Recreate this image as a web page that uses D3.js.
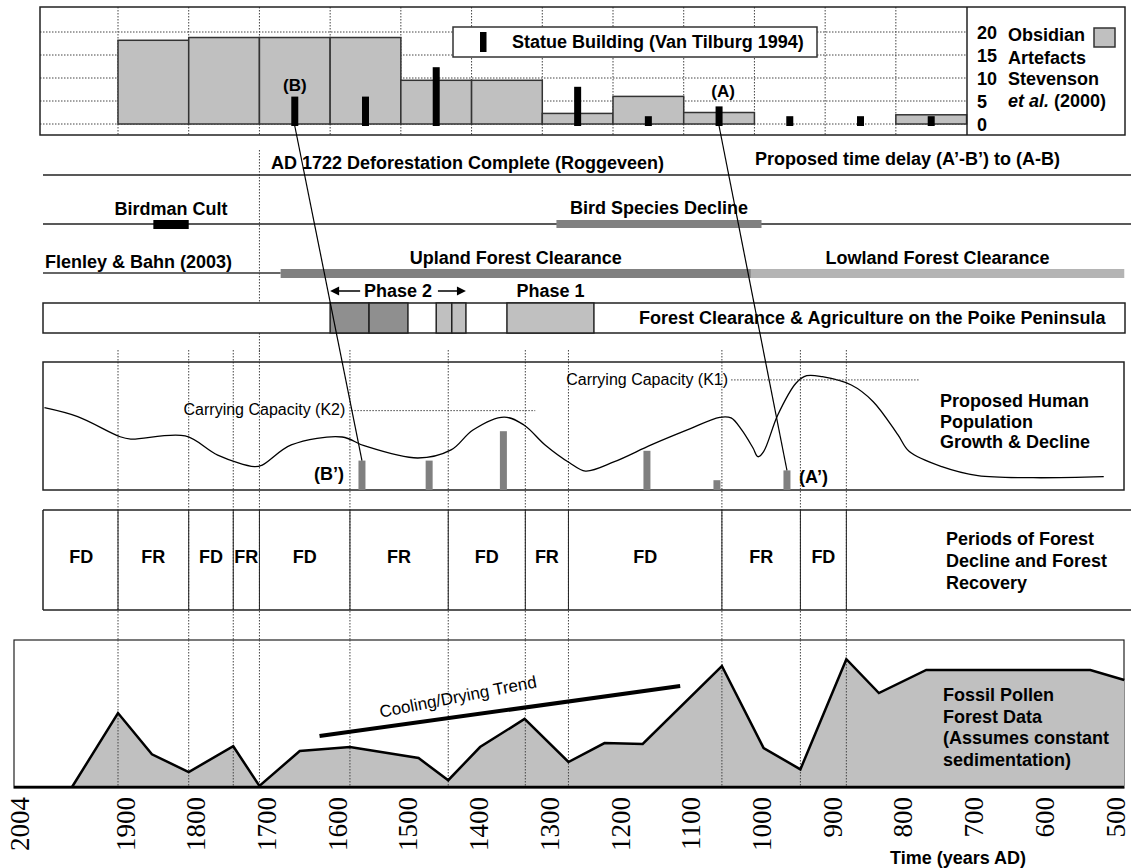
<!DOCTYPE html>
<html>
<head>
<meta charset="utf-8">
<script src="https://cdn.jsdelivr.net/npm/d3@7"></script>
<style>
  body { margin: 0; background: #fff; }
  svg { display: block; }
  text { font-family: "Liberation Sans", Arial, sans-serif; }
</style>
</head>
<body>
<svg id="chart" width="1131" height="868"></svg>
<script>
// ---------- data ----------
const axisYears = [2004, 1900, 1800, 1700, 1600, 1500, 1400, 1300, 1200, 1100, 1000, 900, 800, 700, 600, 500];

// Obsidian artefact counts per century bin (bin start year, counts) - Stevenson et al. (2000)
const obsidianStart = [1900, 1800, 1700, 1600, 1500, 1400, 1300, 1200, 1100, 1000, 900, 800];
const obsidianCounts = [18.2, 18.8, 18.8, 18.8, 9.5, 9.5, 2.3, 6, 2.5, 0, 0, 2];
const obsidianTicks = [20, 15, 10, 5, 0];

// Statue building intensity (Van Tilburg 1994)
const statueYears = [1650, 1550, 1450, 1250, 1150, 1050, 950, 850, 750];
const statueValues = [6, 6, 12, 8, 2, 4, 2, 2, 2];

// Statue building shifted by the proposed time delay
const delayedYears = [1555, 1460, 1355, 1152, 1053, 954];
const delayedValues = [6, 6, 12, 8, 2, 4];

// (B)->(B') and (A)->(A') links: statue year -> delayed year
const linkFrom = [1650, 1050];
const linkTo = [1555, 954];

// Timeline events [start, end]
const birdmanCult = [1850, 1800];
const birdDecline = [1280, 990];
const uplandClearance = [1670, 1005];
const lowlandClearance = [1005, 477];
const deforestationYear = 1700;

// Poike Peninsula clearance blocks
const phase2Blocks = [[1600, 1545], [1545, 1490], [1450, 1428], [1428, 1408]];
const phase1Blocks = [[1350, 1227]];

// Proposed human population curve (relative, 0-100)
const popYears = [2004, 1957, 1897, 1882, 1805, 1759, 1707, 1696, 1655, 1583, 1552, 1476, 1429, 1398, 1354, 1326,
  1296, 1261, 1239, 1198, 1146, 1095, 1049, 1033, 1018, 1002, 995, 987, 967, 941, 926, 904, 863, 832, 797, 781, 735, 684, 606, 506];
const popValues = [64.3, 57.3, 41.6, 39.8, 42.2, 27.3, 18.2, 19.5, 35.2, 41.4, 34.6, 25, 31.3, 46.9, 57, 50.8,
  35.2, 21.1, 14.8, 22.1, 35.2, 46.9, 56.8, 56.3, 46.9, 32.8, 26, 30, 58.6, 83.6, 89.3, 88.5, 82, 69, 43, 30, 18.2, 11.2, 9.6, 10.4];

// Carrying capacities [start year, end year], level
const k2Years = [1570, 1310], k2Value = 62;
const k1Years = [1033, 767], k1Value = 86;

// Periods of forest decline (FD) and recovery (FR)
const periodBounds = [2004, 1900, 1800, 1737, 1700, 1572, 1433, 1324, 1263, 1046, 935, 870];
const periodLabels = ["FD", "FR", "FD", "FR", "FD", "FR", "FD", "FR", "FD", "FR", "FD"];

// Fossil pollen forest data (relative, 0-100)
const pollenYears = [1965, 1900, 1852, 1800, 1737, 1700, 1643, 1572, 1475, 1433, 1388, 1325, 1263, 1212, 1158,
  1046, 987, 935, 870, 824, 757, 525, 477];
const pollenValues = [0, 50.3, 22.2, 10.2, 27.7, 0.7, 24.5, 27.2, 19.7, 4.6, 27.2, 46.3, 17, 29.9, 29.3,
  82.3, 26.5, 12, 86.9, 63.9, 79.6, 79.6, 72.8];

// Cooling/drying trend line [year, pollen level]
const trendYears = [1615, 1105];
const trendValues = [34.7, 68.7];

// ---------- scales ----------
const svg = d3.select("#chart");
const x = d3.scaleLinear().domain([1900, 500]).range([118, 1108]);
const xTick = d3.scaleLinear().domain([2004, 1900, 500]).range([12, x(1900), x(500)]);

const yObs = d3.scaleLinear().domain([0, 20]).range([124, 32]);
const statueH = d3.scaleLinear().domain([0, 12]).range([0, 58.8]);
const statueBase = 126;
const yPop = d3.scaleLinear().domain([0, 100]).range([490, 362]);
const yPol = d3.scaleLinear().domain([0, 100]).range([787, 640]);

const BOLD = "bold";
function label(g, txt, px, py, opts = {}) {
  return g.append("text").attr("x", px).attr("y", py)
    .attr("dominant-baseline", "central")
    .attr("text-anchor", opts.anchor || "start")
    .attr("font-size", opts.size || 18)
    .attr("font-weight", opts.weight || BOLD)
    .attr("fill", "#000")
    .text(txt);
}
const dotted = { stroke: "#444", "stroke-width": 1, "stroke-dasharray": "1.5,1.5" };
function applyAttrs(sel, a) { Object.entries(a).forEach(([k, v]) => sel.attr(k, v)); return sel; }

// ---------- top panel: obsidian artefacts and statue building ----------
const topG = svg.append("g");
const topL = 40, topR = 1125, topT = 7, topB = 135, topDiv = 967;

// gridlines
applyAttrs(topG.selectAll("line.hg").data(obsidianTicks).join("line")
  .attr("x1", topL).attr("x2", topDiv).attr("y1", d => yObs(d)).attr("y2", d => yObs(d)), dotted);
applyAttrs(topG.selectAll("line.vg").data(obsidianStart).join("line")
  .attr("x1", d => x(d)).attr("x2", d => x(d)).attr("y1", topT).attr("y2", topB), dotted);

// obsidian bars
topG.selectAll("rect.obs").data(obsidianStart.map((s, i) => ({ s, e: s - 100, v: obsidianCounts[i] })).filter(d => d.v > 0))
  .join("rect")
  .attr("x", d => x(d.s)).attr("width", d => x(d.e) - x(d.s))
  .attr("y", d => yObs(d.v)).attr("height", d => yObs(0) - yObs(d.v))
  .attr("fill", "#c0c0c0").attr("stroke", "#333").attr("stroke-width", 1.5);

// statue bars
topG.selectAll("rect.st").data(statueYears.map((y, i) => ({ y, v: statueValues[i] })))
  .join("rect")
  .attr("x", d => x(d.y) - 3.5).attr("width", 7)
  .attr("y", d => statueBase - statueH(d.v)).attr("height", d => statueH(d.v))
  .attr("fill", "#000");

// panel frame
topG.append("rect").attr("x", topL).attr("y", topT).attr("width", topR - topL).attr("height", topB - topT)
  .attr("fill", "none").attr("stroke", "#222").attr("stroke-width", 1.5);
topG.append("line").attr("x1", topDiv).attr("x2", topDiv).attr("y1", topT).attr("y2", topB)
  .attr("stroke", "#222").attr("stroke-width", 1.5);

// statue legend
topG.append("rect").attr("x", 453).attr("y", 27).attr("width", 364).attr("height", 30)
  .attr("fill", "#fff").attr("stroke", "#333").attr("stroke-width", 1.5);
topG.append("rect").attr("x", 480).attr("y", 32).attr("width", 6.5).attr("height", 20).attr("fill", "#000");
label(topG, "Statue Building (Van Tilburg 1994)", 512, 42);

label(topG, "(B)", x(statueYears[0]), 85, { anchor: "middle", size: 17 });
label(topG, "(A)", x(statueYears[5]) + 4, 91, { anchor: "middle", size: 17 });

// obsidian axis and legend (right side)
topG.selectAll("text.ot").data(obsidianTicks).join("text")
  .attr("x", 977).attr("y", d => yObs(d) + 0.5)
  .attr("dominant-baseline", "central").attr("font-size", 18).attr("font-weight", BOLD)
  .text(d => d);
const obsLegend = ["Obsidian", "Artefacts", "Stevenson"];
obsLegend.forEach((t, i) => label(topG, t, 1008, [35, 57.5, 79][i]));
const etal = topG.append("text").attr("x", 1008).attr("y", 101).attr("dominant-baseline", "central")
  .attr("font-size", 18).attr("font-weight", BOLD);
etal.append("tspan").attr("font-style", "italic").text("et al.");
etal.append("tspan").text(" (2000)");
topG.append("rect").attr("x", 1094).attr("y", 28).attr("width", 21).attr("height", 19)
  .attr("fill", "#c0c0c0").attr("stroke", "#333").attr("stroke-width", 1.5);

// ---------- timeline rows ----------
const tl = svg.append("g");
// vertical dotted marker for deforestation
applyAttrs(tl.append("line").attr("x1", x(deforestationYear)).attr("x2", x(deforestationYear))
  .attr("y1", 150).attr("y2", 352), dotted);

tl.append("line").attr("x1", 43).attr("x2", 1131).attr("y1", 175).attr("y2", 175).attr("stroke", "#222").attr("stroke-width", 1.5);
label(tl, "AD 1722 Deforestation Complete (Roggeveen)", 271, 163);
label(tl, "Proposed time delay (A\u2019-B\u2019) to (A-B)", 755, 159);

tl.append("line").attr("x1", 43).attr("x2", 1131).attr("y1", 224).attr("y2", 224).attr("stroke", "#222").attr("stroke-width", 1.5);
tl.append("rect").attr("x", x(birdmanCult[0])).attr("width", x(birdmanCult[1]) - x(birdmanCult[0]))
  .attr("y", 220).attr("height", 9).attr("fill", "#000");
label(tl, "Birdman Cult", (x(birdmanCult[0]) + x(birdmanCult[1])) / 2, 209, { anchor: "middle" });
tl.append("rect").attr("x", x(birdDecline[0])).attr("width", x(birdDecline[1]) - x(birdDecline[0]))
  .attr("y", 220).attr("height", 8).attr("fill", "#808080");
label(tl, "Bird Species Decline", (x(birdDecline[0]) + x(birdDecline[1])) / 2, 208, { anchor: "middle" });

tl.append("line").attr("x1", 43).attr("x2", x(uplandClearance[0])).attr("y1", 273).attr("y2", 273).attr("stroke", "#333").attr("stroke-width", 1.5);
label(tl, "Flenley & Bahn (2003)", 45, 262);
tl.append("rect").attr("x", x(uplandClearance[0])).attr("width", x(uplandClearance[1]) - x(uplandClearance[0]))
  .attr("y", 269).attr("height", 9).attr("fill", "#808080");
tl.append("rect").attr("x", x(lowlandClearance[0])).attr("width", x(lowlandClearance[1]) - x(lowlandClearance[0]))
  .attr("y", 269).attr("height", 9).attr("fill", "#b4b4b4");
label(tl, "Upland Forest Clearance", (x(uplandClearance[0]) + x(uplandClearance[1])) / 2, 258, { anchor: "middle" });
label(tl, "Lowland Forest Clearance", (x(lowlandClearance[0]) + x(lowlandClearance[1])) / 2, 258, { anchor: "middle" });

// Poike Peninsula row
tl.append("rect").attr("x", 43).attr("y", 303).attr("width", 1125 - 43).attr("height", 30)
  .attr("fill", "#fff").attr("stroke", "#222").attr("stroke-width", 1.5);
tl.selectAll("rect.p2").data(phase2Blocks).join("rect")
  .attr("x", d => x(d[0])).attr("width", d => x(d[1]) - x(d[0])).attr("y", 303).attr("height", 30)
  .attr("fill", (d, i) => i < 2 ? "#8f8f8f" : "#c0c0c0").attr("stroke", "#222").attr("stroke-width", 1.5);
tl.selectAll("rect.p1").data(phase1Blocks).join("rect")
  .attr("x", d => x(d[0])).attr("width", d => x(d[1]) - x(d[0])).attr("y", 303).attr("height", 30)
  .attr("fill", "#c0c0c0").attr("stroke", "#222").attr("stroke-width", 1.5);
label(tl, "Forest Clearance & Agriculture on the Poike Peninsula", 639, 318);

const p2a = x(phase2Blocks[0][0]), p2b = x(phase2Blocks[phase2Blocks.length - 1][1]);
const p2mid = (p2a + p2b) / 2;
label(tl, "Phase 2", p2mid, 291, { anchor: "middle" });
tl.append("line").attr("x1", p2a + 30).attr("x2", p2a + 6).attr("y1", 291).attr("y2", 291).attr("stroke", "#000").attr("stroke-width", 1.5);
tl.append("path").attr("d", `M${p2a},291 L${p2a + 9},286.5 L${p2a + 9},295.5 Z`).attr("fill", "#000");
tl.append("line").attr("x1", p2b - 28).attr("x2", p2b - 6).attr("y1", 291).attr("y2", 291).attr("stroke", "#000").attr("stroke-width", 1.5);
tl.append("path").attr("d", `M${p2b},291 L${p2b - 9},286.5 L${p2b - 9},295.5 Z`).attr("fill", "#000");
label(tl, "Phase 1", (x(phase1Blocks[0][0]) + x(phase1Blocks[0][1])) / 2, 291, { anchor: "middle" });

// ---------- period boundary dotted lines ----------
const bounds = periodBounds.slice(1);
applyAttrs(svg.append("g").selectAll("line").data(bounds).join("line")
  .attr("x1", d => x(d)).attr("x2", d => x(d)).attr("y1", 350).attr("y2", yPol(0)), dotted);

// ---------- population panel ----------
const pop = svg.append("g");
pop.append("rect").attr("x", 43).attr("y", 362).attr("width", 1124 - 43).attr("height", 128)
  .attr("fill", "none").attr("stroke", "#222").attr("stroke-width", 1.5);
pop.append("path")
  .datum(popYears.map((y, i) => [y, popValues[i]]))
  .attr("d", d3.line().x(d => x(d[0])).y(d => yPop(d[1])).curve(d3.curveCatmullRom.alpha(0.5)))
  .attr("fill", "none").attr("stroke", "#000").attr("stroke-width", 1.3);
pop.selectAll("rect.db").data(delayedYears.map((y, i) => ({ y, v: delayedValues[i] }))).join("rect")
  .attr("x", d => x(d.y) - 3.5).attr("width", 7)
  .attr("y", d => yPop(0) - statueH(d.v)).attr("height", d => statueH(d.v))
  .attr("fill", "#808080");

// carrying capacities
applyAttrs(pop.append("line").attr("x1", x(k2Years[0])).attr("x2", x(k2Years[1])).attr("y1", yPop(k2Value)).attr("y2", yPop(k2Value)), dotted);
label(pop, "Carrying Capacity (K2)", x(k2Years[0]) - 6, yPop(k2Value) - 1.5, { anchor: "end", weight: "normal", size: 16 });
applyAttrs(pop.append("line").attr("x1", x(k1Years[0])).attr("x2", x(k1Years[1])).attr("y1", yPop(k1Value)).attr("y2", yPop(k1Value)), dotted);
label(pop, "Carrying Capacity (K1)", x(k1Years[0]) - 3, yPop(k1Value) - 0.5, { anchor: "end", weight: "normal", size: 16 });

label(pop, "(B\u2019)", x(delayedYears[0]) - 18, 474, { anchor: "end" });
label(pop, "(A\u2019)", x(delayedYears[5]) + 12, 477);
["Proposed Human", "Population", "Growth & Decline"].forEach((t, i) => label(pop, t, 940, 401 + i * 20.5));

// (B)-(B') and (A)-(A') links
svg.append("g").selectAll("line").data(linkFrom.map((f, i) => ({ f, t: linkTo[i], v: delayedValues[delayedYears.indexOf(linkTo[i])] })))
  .join("line")
  .attr("x1", d => x(d.f)).attr("y1", statueBase)
  .attr("x2", d => x(d.t)).attr("y2", d => yPop(0) - statueH(d.v))
  .attr("stroke", "#000").attr("stroke-width", 1.2);

// ---------- forest decline / recovery panel ----------
const per = svg.append("g");
per.append("line").attr("x1", 43).attr("x2", 1131).attr("y1", 510).attr("y2", 510).attr("stroke", "#222").attr("stroke-width", 1.5);
per.append("line").attr("x1", 43).attr("x2", 1131).attr("y1", 610).attr("y2", 610).attr("stroke", "#222").attr("stroke-width", 1.5);
per.append("line").attr("x1", 43).attr("x2", 43).attr("y1", 510).attr("y2", 610).attr("stroke", "#222").attr("stroke-width", 1.5);
per.selectAll("line.b").data(bounds).join("line")
  .attr("x1", d => x(d)).attr("x2", d => x(d)).attr("y1", 510).attr("y2", 610)
  .attr("stroke", "#222").attr("stroke-width", 1);
per.selectAll("text.pl").data(periodLabels).join("text")
  .attr("x", (d, i) => (Math.max(43, x(periodBounds[i])) + x(periodBounds[i + 1])) / 2)
  .attr("y", 557).attr("text-anchor", "middle").attr("dominant-baseline", "central")
  .attr("font-size", 18).attr("font-weight", BOLD).text(d => d);
["Periods of Forest", "Decline and Forest", "Recovery"].forEach((t, i) => label(per, t, 946, 539 + i * 22));

// ---------- fossil pollen panel ----------
const pol = svg.append("g");
pol.append("rect").attr("x", 14).attr("y", 640).attr("width", 1124 - 14).attr("height", 148)
  .attr("fill", "#fff").attr("stroke", "#222").attr("stroke-width", 1.2);
const pollenData = pollenYears.map((y, i) => [y, pollenValues[i]]);
pol.append("path").datum(pollenData)
  .attr("d", d3.area().x(d => x(d[0])).y0(yPol(0)).y1(d => yPol(d[1])))
  .attr("fill", "#c0c0c0");
applyAttrs(pol.selectAll("line.pd").data(bounds).join("line")
  .attr("x1", d => x(d)).attr("x2", d => x(d)).attr("y1", 640).attr("y2", yPol(0)), dotted);
pol.append("path").datum(pollenData)
  .attr("d", d3.line().x(d => x(d[0])).y(d => yPol(d[1])))
  .attr("fill", "none").attr("stroke", "#000").attr("stroke-width", 2.5).attr("stroke-linejoin", "miter");
pol.append("line").attr("x1", 14).attr("x2", 1124).attr("y1", yPol(0)).attr("y2", yPol(0))
  .attr("stroke", "#000").attr("stroke-width", 2.5);

// cooling/drying trend
pol.append("line")
  .attr("x1", x(trendYears[0])).attr("y1", yPol(trendValues[0]))
  .attr("x2", x(trendYears[1])).attr("y2", yPol(trendValues[1]))
  .attr("stroke", "#000").attr("stroke-width", 4);
pol.append("text").attr("transform", "translate(458,697) rotate(-11)")
  .attr("text-anchor", "middle").attr("dominant-baseline", "central")
  .attr("font-size", 17).text("Cooling/Drying Trend");

["Fossil Pollen", "Forest Data", "(Assumes constant", "sedimentation)"].forEach((t, i) => label(pol, t, 943, 695 + i * 21.7));

// ---------- bottom time axis ----------
const gAxis = svg.append("g").attr("transform", "translate(0,797)")
  .call(d3.axisBottom(xTick).tickValues(axisYears).tickSize(0).tickFormat(d3.format("d")));
gAxis.select(".domain").remove();
gAxis.selectAll("text")
  .attr("x", 0).attr("y", 0).attr("dy", null)
  .attr("transform", "translate(7,0) rotate(-90)")
  .attr("text-anchor", "end").attr("dominant-baseline", "central")
  .attr("fill", "#000")
  .style("font-family", "'Liberation Serif', 'Times New Roman', serif")
  .style("font-size", "27px");

label(svg, "Time (years AD)", 890, 858);
</script>
</body>
</html>
